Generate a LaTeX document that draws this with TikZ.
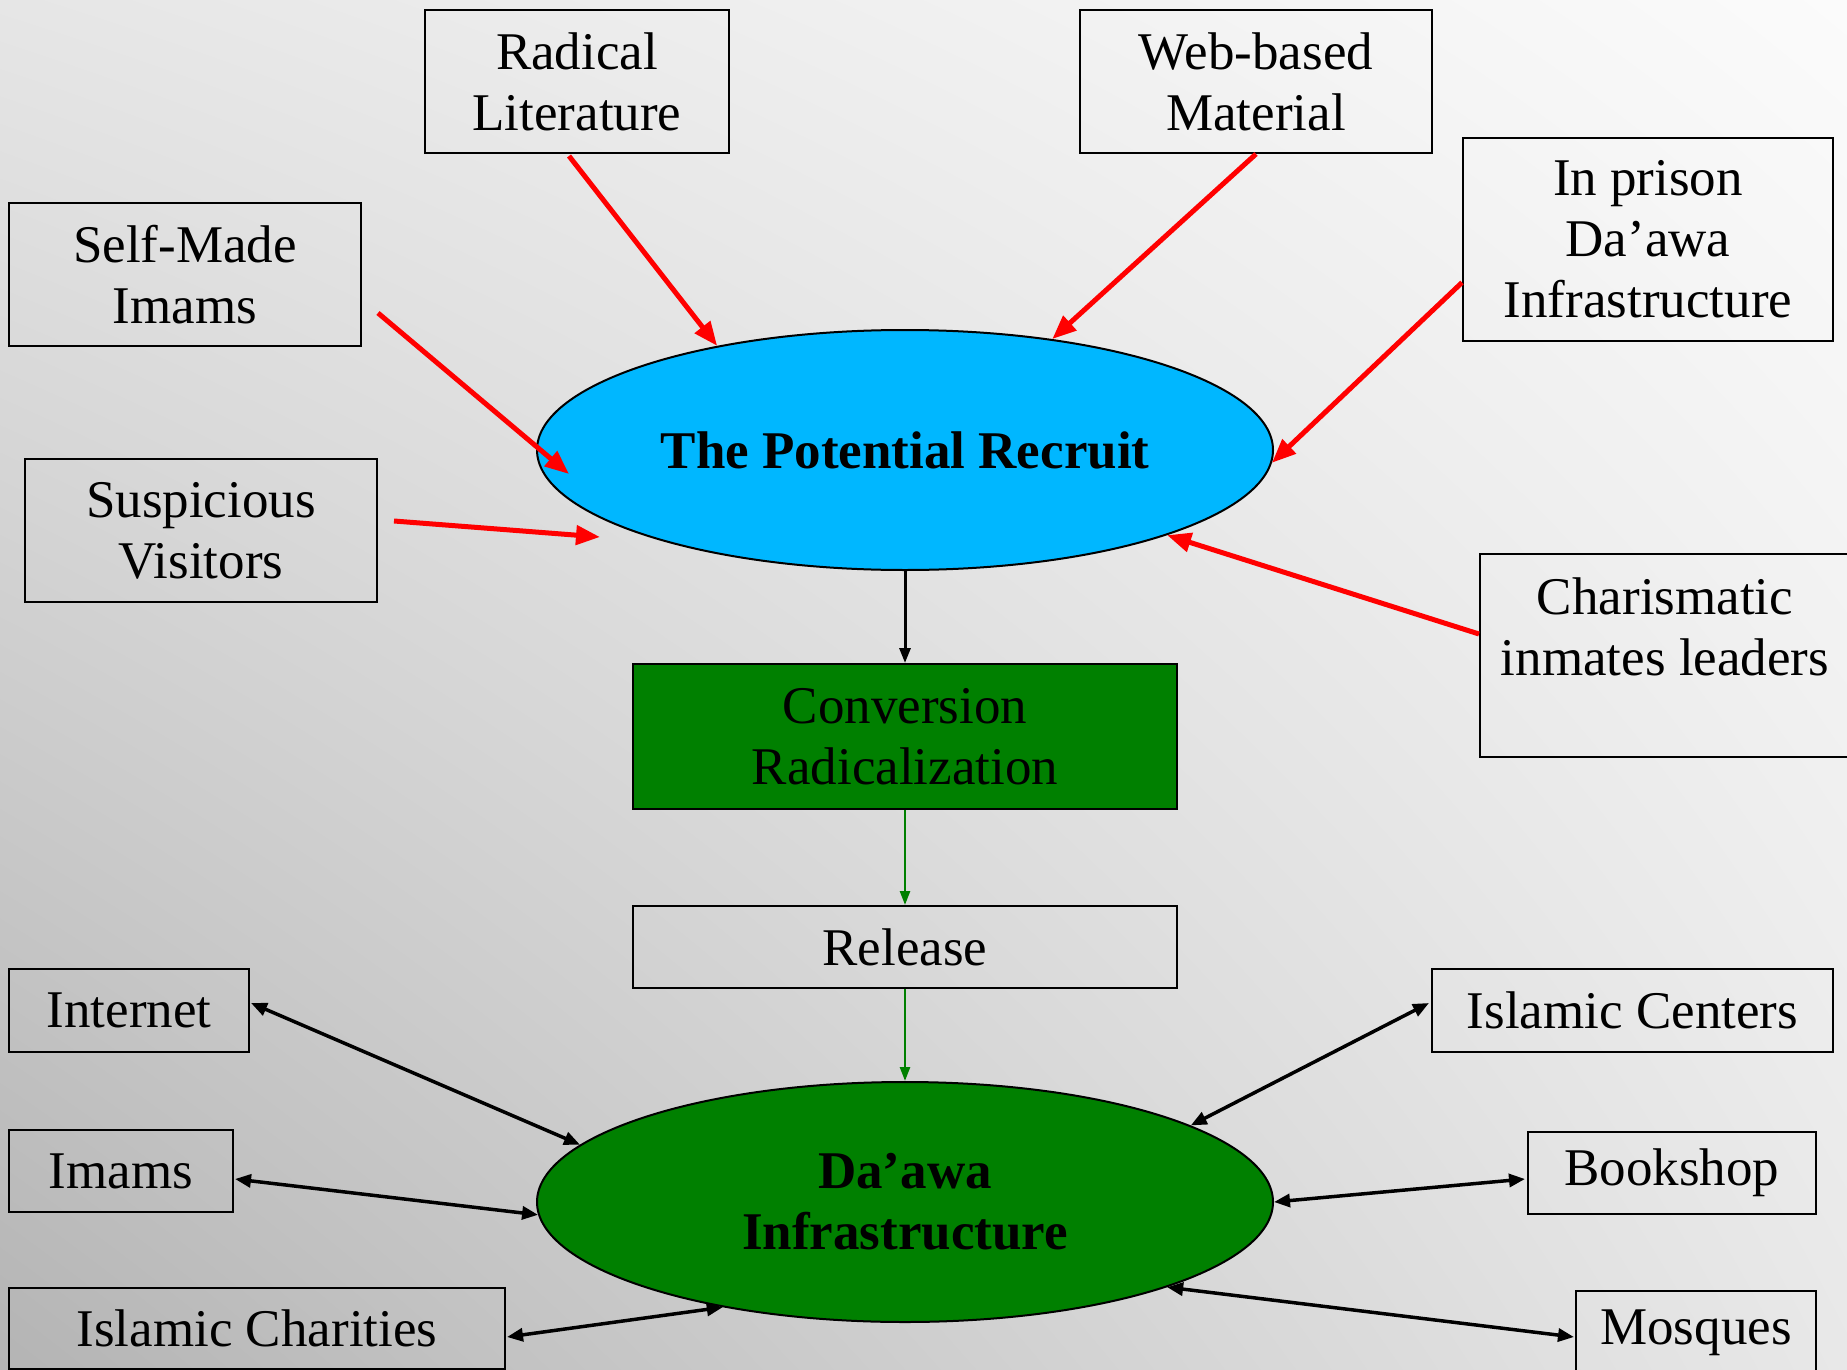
\documentclass[tikz,border=0pt]{standalone}
\usepackage{fontspec}
\setmainfont{Liberation Serif}
\usetikzlibrary{arrows.meta,shapes.geometric,calc,shadings}
\definecolor{bgLL}{RGB}{180,180,180}
\definecolor{bgUL}{RGB}{230,230,230}
\definecolor{bgUR}{RGB}{251,251,251}
\definecolor{bgLR}{RGB}{232,232,232}
\definecolor{skyfill}{RGB}{0,183,255}
\definecolor{dgreen}{RGB}{0,128,0}
\begin{document}
\begin{tikzpicture}[x=1pt,y=-1pt,
  txt/.style={font=\fontsize{53}{61}\selectfont},
  box/.style={txt,draw=black,line width=2pt,inner sep=0pt,align=center},
  oval/.style={ellipse,draw=black,line width=2pt,inner sep=0pt,align=center,
    minimum width=736pt,minimum height=240pt,font=\fontsize{53}{61}\selectfont\bfseries},
  redarr/.style={draw=red,line width=5pt,-{Triangle[length=24pt,width=19pt]}},
  dblarr/.style={draw=black,line width=3.5pt,{Triangle[length=16pt,width=13pt]}-{Triangle[length=16pt,width=13pt]}},
  blkarr/.style={draw=black,line width=3pt,-{Triangle[length=15pt,width=11pt]}},
  grnarr/.style={draw=dgreen,line width=2.5pt,-{Triangle[length=14pt,width=10pt]}}]
\useasboundingbox (0,0) rectangle (1847,1370);
\shade[upper left=bgUL,upper right=bgUR,lower left=bgLL,lower right=bgLR] (0,0) rectangle (1847,1370);

% top sources
\node[box,minimum width=304pt,minimum height=143pt] (rad) at (577,81.5) {Radical\\Literature};
\node[box,minimum width=352pt,minimum height=143pt] (web) at (1256,81.5) {Web-based\\Material};
\node[box,minimum width=370pt,minimum height=203pt] (prison) at (1648,239.5) {In prison\\Da’awa\\Infrastructure};
\node[box,minimum width=352pt,minimum height=143pt] (self) at (185,274.5) {Self-Made\\Imams};
\node[box,minimum width=352pt,minimum height=143pt] (susp) at (201,530.5) {Suspicious\\Visitors};
\node[box,minimum width=370pt,minimum height=203pt] (char) at (1665,655.5) {Charismatic\\inmates leaders\\[-4pt]\mbox{}};

% central
\node[oval,fill=skyfill] (rec) at (905,450) {The Potential Recruit};
\node[box,fill=dgreen,minimum width=544pt,minimum height=145pt] (conv) at (905,736.5) {Conversion\\Radicalization};
\node[box,minimum width=544pt,minimum height=82pt] (rel) at (905,947) {Release};
\node[oval,fill=dgreen] (daw) at (905,1202) {Da’awa\\Infrastructure};

% bottom boxes
\node[box,minimum width=240pt,minimum height=83pt] (inet) at (129,1010.5) {Internet};
\node[box,minimum width=224pt,minimum height=82pt] (imams) at (121,1171) {Imams};
\node[box,minimum width=496pt,minimum height=81pt] (charity) at (257,1328.5) {Islamic Charities};
\node[box,minimum width=401pt,minimum height=83pt] (cent) at (1632.5,1010.5) {Islamic Centers};
\node[box,minimum width=288pt,minimum height=82pt] (book) at (1672,1173) {Bookshop};
\node[box,minimum width=240pt,minimum height=84pt] (mosq) at (1696,1333) {Mosques};

% red arrows
\coordinate (smEnd) at (569,474);
\coordinate (svEnd) at (600,537);
\draw[redarr] ($(rad.south)+(-8,2)$) -- (rec.151.5);
\draw[redarr] (web.south) -- (rec.37.5);
\draw[redarr] ($(prison.west)+(0,43)$) -- (rec.-2);
\draw[redarr] ($(char.west)+(0,-21.5)$) -- (rec.-18.8);
\draw[redarr] ($(self.east)+(16,38.5)$) -- (smEnd);
\draw[redarr] ($(susp.east)+(16,-9.5)$) -- (svEnd);

% main flow
\draw[blkarr] (rec.south) -- (conv.north);
\draw[grnarr] (conv.south) -- (rel.north);
\draw[grnarr] (rel.south) -- (daw.north);

% double arrows
\draw[dblarr] ($(inet.east)+(1,-7.5)$) -- (daw.170.1);
\draw[dblarr] ($(imams.east)+(1,8)$) -- (daw.-178.9);
\draw[dblarr] ($(charity.east)+(1,8.5)$) -- (daw.210);
\draw[dblarr] ($(cent.west)+(-2,-7.5)$) -- (daw.15.1);
\draw[dblarr] ($(book.west)+(-2,6)$) -- (daw.-0.8);
\draw[dblarr] ($(mosq.west)+(-1,4)$) -- (daw.-18.8);
\end{tikzpicture}
\end{document}
